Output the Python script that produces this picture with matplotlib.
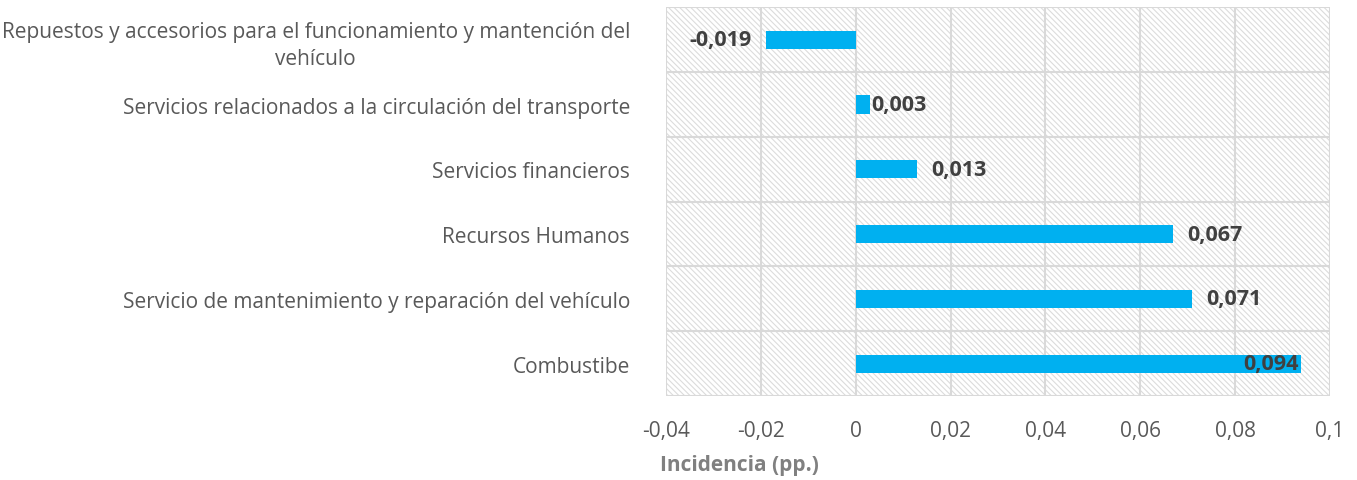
import matplotlib.pyplot as plt
from matplotlib.patches import Rectangle

categories = [
    "Repuestos y accesorios para el funcionamiento y mantención del\nvehículo",
    "Servicios relacionados a la circulación del transporte",
    "Servicios financieros",
    "Recursos Humanos",
    "Servicio de mantenimiento y reparación del vehículo",
    "Combustibe",
]
values = [-0.019, 0.003, 0.013, 0.067, 0.071, 0.094]
labels = ["-0,019", "0,003", "0,013", "0,067", "0,071", "0,094"]
xticks = [-0.04, -0.02, 0, 0.02, 0.04, 0.06, 0.08, 0.1]
xtick_labels = ["-0,04", "-0,02", "0", "0,02", "0,04", "0,06", "0,08", "0,1"]

plt.rcParams["font.family"] = ["Open Sans", "DejaVu Sans"]
plt.rcParams["hatch.linewidth"] = 0.8

fig = plt.figure(figsize=(13.57, 4.81), dpi=100)
ax = fig.add_axes([0.4908, 0.1746, 0.4892, 0.808])

n = len(categories)
ypos = list(range(n - 1, -1, -1))

# hatched background
ax.add_patch(Rectangle((0, 0), 1, 1, transform=ax.transAxes, facecolor="white",
                       edgecolor="#dcdcdc", hatch="\\" * 6, linewidth=0, zorder=0))

ax.barh(ypos, values, height=0.28, color="#00b0f0", zorder=3)

ax.set_xlim(-0.04, 0.1)
ax.set_ylim(-0.5, n - 0.5)
ax.set_xticks(xticks)
ax.set_xticklabels(xtick_labels)
ax.set_yticks(ypos)
ax.set_yticklabels(categories, multialignment="center", linespacing=1.35)
ax.tick_params(axis="both", length=0, labelsize=15, labelcolor="#595959")
ax.tick_params(axis="y", pad=26)
ax.tick_params(axis="x", pad=17)

# grid lines
for x in xticks:
    ax.axvline(x, color="#d9d9d9", linewidth=1.5, zorder=1)
for y in [i - 0.5 for i in range(n + 1)]:
    ax.axhline(y, color="#d9d9d9", linewidth=1.5, zorder=1)
for s in ax.spines.values():
    s.set_visible(False)

ax.set_xlabel("Incidencia (pp.)", fontsize=15, fontweight="bold", color="#808080")
ax.xaxis.set_label_coords(0.111, -0.15)

# data labels
for y, v, lab in zip(ypos, values, labels):
    if v < 0:
        ax.text(v - 0.003, y, lab, ha="right", va="center", fontsize=15.5,
                fontweight="bold", color="#404040", zorder=4)
    elif v > 0.09:
        ax.text(v - 0.0005, y, lab, ha="right", va="center", fontsize=15.5,
                fontweight="bold", color="#404040", zorder=4)
    elif v < 0.005:
        ax.text(v + 0.0003, y, lab, ha="left", va="center", fontsize=15.5,
                fontweight="bold", color="#404040", zorder=4)
    else:
        ax.text(v + 0.003, y, lab, ha="left", va="center", fontsize=15.5,
                fontweight="bold", color="#404040", zorder=4)

fig.savefig("out.png", dpi=100)
